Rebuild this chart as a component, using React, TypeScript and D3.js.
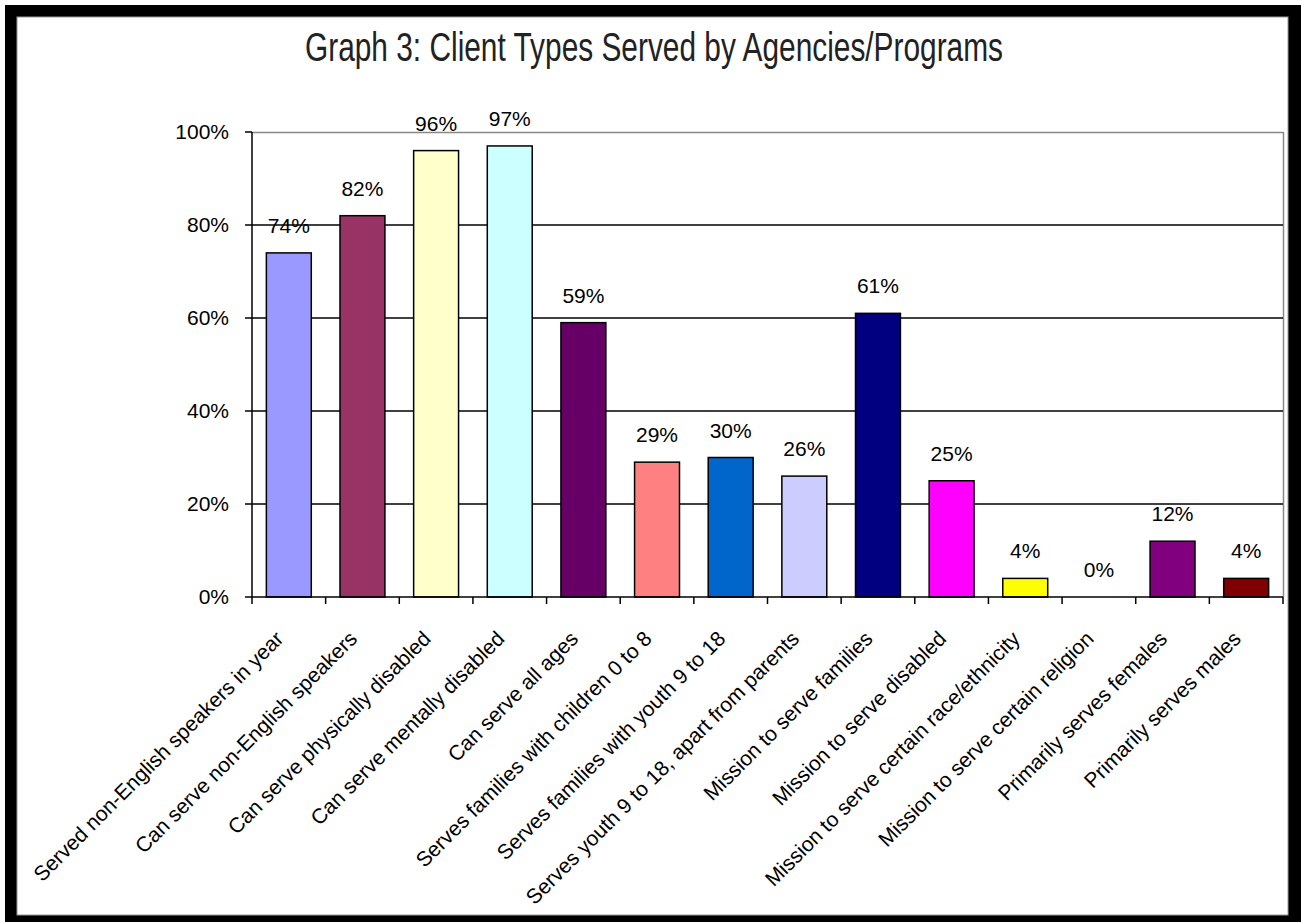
import React from 'react';
import * as d3 from 'd3';

// Chart data
const categories = [
  'Served non-English speakers in year',
  'Can serve non-English speakers',
  'Can serve physically disabled',
  'Can serve mentally disabled',
  'Can serve all ages',
  'Serves families with children 0 to 8',
  'Serves families with youth 9 to 18',
  'Serves youth 9 to 18, apart from parents',
  'Mission to serve families',
  'Mission to serve disabled',
  'Mission to serve certain race/ethnicity',
  'Mission to serve certain religion',
  'Primarily serves females',
  'Primarily serves males',
];
const values = [0.74, 0.82, 0.96, 0.97, 0.59, 0.29, 0.30, 0.26, 0.61, 0.25, 0.04, 0.0, 0.12, 0.04];
const barColors = [
  '#9999FF', '#993366', '#FFFFCC', '#CCFFFF', '#660066', '#FF8080', '#0066CC',
  '#CCCCFF', '#000080', '#FF00FF', '#FFFF00', '#00FFFF', '#800080', '#800000',
];
const yTicks = [0, 0.2, 0.4, 0.6, 0.8, 1.0];
const title = 'Graph 3: Client Types Served by Agencies/Programs';

const W = 1301;
const H = 922;
const plot = { left: 252, right: 1283, top: 132, bottom: 597 };
const font = '"Liberation Sans", Arial, sans-serif';

const App: React.FC = () => {
  const x = d3.scaleBand<string>().domain(categories).range([plot.left, plot.right]).padding(0);
  const y = d3.scaleLinear().domain([0, 1]).range([plot.bottom, plot.top]);
  const fmt = d3.format('.0%');
  const barW = x.bandwidth() * 0.61;

  return (
    <svg width={W} height={H} style={{ position: 'absolute', left: 0, top: 0, display: 'block' }}>
      {/* frame */}
      <rect x={5} y={5} width={W - 5} height={H - 5} fill="#000" />
      <rect x={17} y={17} width={1271} height={898} fill="#fff" stroke="#999" strokeWidth={1} />

      <text
        x={654}
        y={61}
        textAnchor="middle"
        fontFamily={font}
        fontSize={40}
        textLength={698}
        lengthAdjust="spacingAndGlyphs"
        fill="#222"
      >
        {title}
      </text>

      {/* plot border + gridlines */}
      <line x1={plot.left} x2={plot.right} y1={plot.top + 0.5} y2={plot.top + 0.5} stroke="#888" strokeWidth={1.5} />
      <line x1={plot.right + 0.5} x2={plot.right + 0.5} y1={plot.top} y2={plot.bottom} stroke="#888" strokeWidth={1.5} />
      {yTicks.slice(1, -1).map(t => (
        <line key={t} x1={plot.left} x2={plot.right} y1={y(t)} y2={y(t)} stroke="#000" strokeWidth={1.5} />
      ))}

      {/* bars */}
      {categories.map((c, i) => {
        const cx = (x(c) as number) + x.bandwidth() / 2;
        return values[i] > 0 ? (
          <rect
            key={c}
            x={cx - barW / 2}
            y={y(values[i])}
            width={barW}
            height={plot.bottom - y(values[i])}
            fill={barColors[i]}
            stroke="#000"
            strokeWidth={1.5}
          />
        ) : null;
      })}

      {/* value labels */}
      {categories.map((c, i) => {
        const cx = (x(c) as number) + x.bandwidth() / 2;
        return (
          <text key={c} x={cx} y={y(values[i]) - 20} textAnchor="middle" fontFamily={font} fontSize={21} fill="#000">
            {fmt(values[i])}
          </text>
        );
      })}

      {/* y axis */}
      <line x1={plot.left} x2={plot.left} y1={plot.top} y2={plot.bottom} stroke="#000" strokeWidth={1.5} />
      {yTicks.map(t => (
        <g key={t}>
          <line x1={plot.left - 7} x2={plot.left} y1={y(t)} y2={y(t)} stroke="#000" strokeWidth={1.5} />
          <text x={229} y={y(t)} dy="0.35em" textAnchor="end" fontFamily={font} fontSize={21} fill="#000">
            {fmt(t)}
          </text>
        </g>
      ))}

      {/* x axis */}
      <line x1={plot.left} x2={plot.right} y1={plot.bottom} y2={plot.bottom} stroke="#000" strokeWidth={1.5} />
      {categories.map(c => (
        <line key={c} x1={x(c) as number} x2={x(c) as number} y1={plot.bottom} y2={plot.bottom + 7} stroke="#000" strokeWidth={1.5} />
      ))}
      <line x1={plot.right} x2={plot.right} y1={plot.bottom} y2={plot.bottom + 7} stroke="#000" strokeWidth={1.5} />
      {categories.map(c => {
        const cx = (x(c) as number) + x.bandwidth() / 2;
        return (
          <text
            key={c}
            transform={`translate(${cx - 4},${plot.bottom + 43}) rotate(-45)`}
            textAnchor="end"
            fontFamily={font}
            fontSize={21}
            fill="#000"
          >
            {c}
          </text>
        );
      })}
    </svg>
  );
};

export default App;
